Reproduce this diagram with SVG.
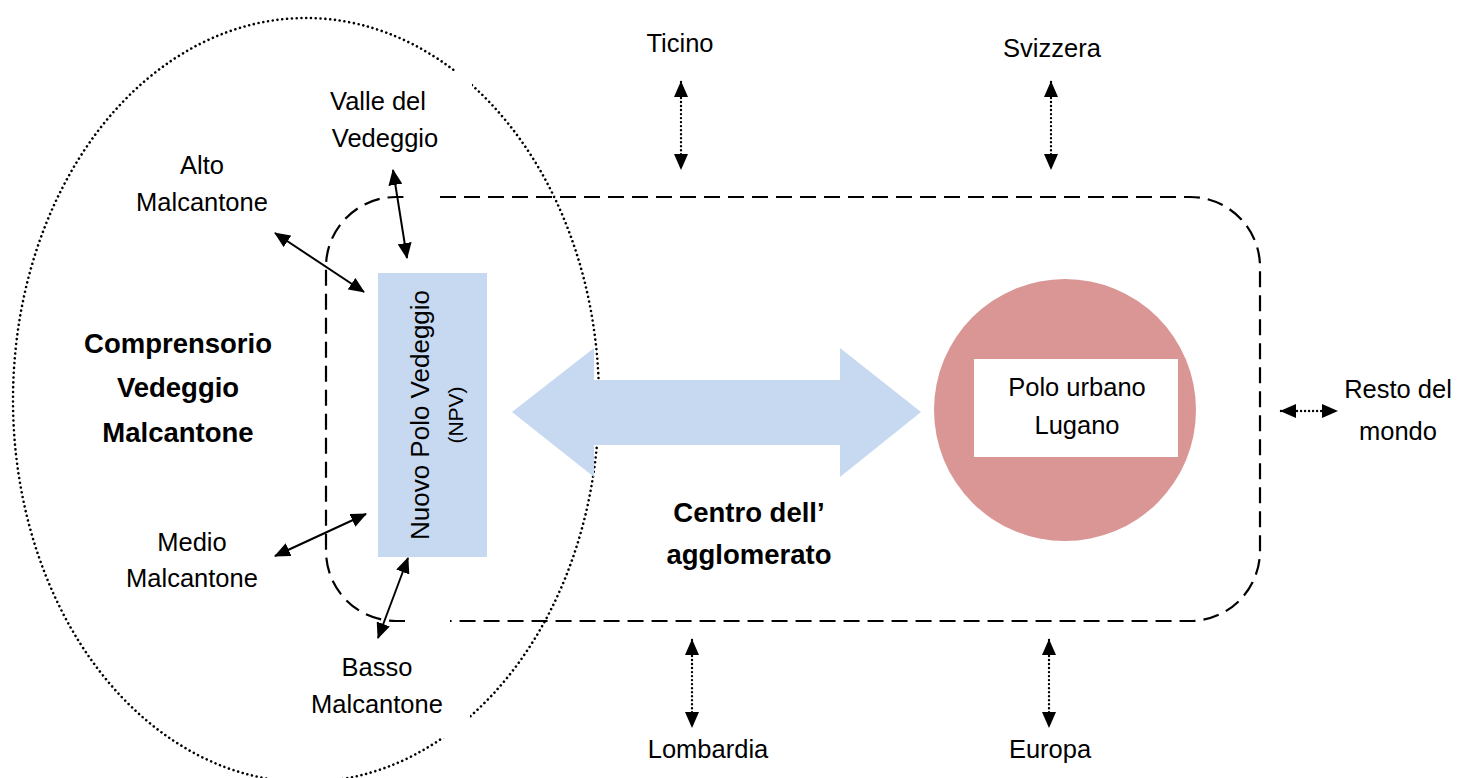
<svg xmlns="http://www.w3.org/2000/svg" width="1463" height="778" viewBox="0 0 1463 778">
  <defs>
    <style>
      .t { font-family: "Liberation Sans", Arial, sans-serif; font-size: 25.5px; fill: #000; text-anchor: middle; }
      .tb { font-family: "Liberation Sans", Arial, sans-serif; font-size: 27.5px; font-weight: bold; fill: #000; text-anchor: middle; }
      .dotted { fill: none; stroke: #000; stroke-width: 2.6; stroke-dasharray: 0.01 4.8; stroke-linecap: round; }
      .dashed { fill: none; stroke: #000; stroke-width: 2.2; stroke-dasharray: 16 8; }
      .solid { fill: none; stroke: #000; stroke-width: 2; marker-start: url(#ah); marker-end: url(#ah); }
      .dotarrow { fill: none; stroke: #000; stroke-width: 2.4; stroke-dasharray: 0.01 4; stroke-linecap: round; marker-start: url(#ah); marker-end: url(#ah); }
    </style>
    <marker id="ah" viewBox="0 0 16 14" refX="15" refY="7" markerWidth="16" markerHeight="14" markerUnits="userSpaceOnUse" orient="auto-start-reverse">
      <path d="M0,0 L16,7 L0,14 z" fill="#000"/>
    </marker>
  </defs>

  <rect width="1463" height="778" fill="#fff"/>

  <g id="comprensorio">
    <ellipse cx="306" cy="400" rx="293" ry="382" class="dotted"/>
  </g>

  <g id="agglomerato">
    <path class="dashed" d="M440,197 L1190,197 A70,70 0 0 1 1260,267 L1260,551 A70,70 0 0 1 1190,621 L450,621"/>
    <path class="dashed" d="M405,621 L396,621 A70,70 0 0 1 326,551 L326,267 A70,70 0 0 1 396,197 L410,197"/>
  </g>

  <g id="valle-vedeggio">
    <rect x="310" y="71" width="162" height="89" fill="#fff"/>
    <text class="t" x="378" y="110">Valle del</text>
    <text class="t" x="385" y="147">Vedeggio</text>
  </g>
  <g id="basso-malcantone">
    <rect x="300" y="648" width="170" height="90" fill="#fff"/>
    <text class="t" x="377" y="676">Basso</text>
    <text class="t" x="377" y="713">Malcantone</text>
  </g>

  <g id="doppia-freccia">
    <polygon points="512,412 594,348 594,380 840,380 840,348 921,412 840,477 840,445 594,445 594,477" fill="#C6D9F1"/>
  </g>

  <g id="npv">
    <rect x="378" y="273" width="109" height="284" fill="#C6D9F1"/>
    <text class="t" transform="translate(420,415) rotate(-90)" y="9" style="font-size:26px">Nuovo Polo Vedeggio</text>
    <text class="t" transform="translate(456,415) rotate(-90)" y="7" style="font-size:21px">(NPV)</text>
  </g>

  <g id="polo-lugano">
    <circle cx="1065" cy="410" r="131" fill="#D99694"/>
    <rect x="974" y="359" width="204" height="98" fill="#fff"/>
    <text class="t" x="1077" y="396">Polo urbano</text>
    <text class="t" x="1077" y="434">Lugano</text>
  </g>

  <g id="ticino"><text class="t" x="680" y="52">Ticino</text></g>
  <g id="svizzera"><text class="t" x="1052" y="57">Svizzera</text></g>
  <g id="lombardia"><text class="t" x="708" y="758">Lombardia</text></g>
  <g id="europa"><text class="t" x="1050" y="758">Europa</text></g>
  <g id="resto-mondo">
    <text class="t" x="1398" y="398">Resto del</text>
    <text class="t" x="1398" y="440">mondo</text>
  </g>
  <g id="alto-malcantone">
    <text class="t" x="202" y="174">Alto</text>
    <text class="t" x="202" y="211">Malcantone</text>
  </g>
  <g id="medio-malcantone">
    <text class="t" x="192" y="551">Medio</text>
    <text class="t" x="192" y="587">Malcantone</text>
  </g>
  <g id="comprensorio-label">
    <text class="tb" x="178" y="353">Comprensorio</text>
    <text class="tb" x="178" y="397">Vedeggio</text>
    <text class="tb" x="178" y="442">Malcantone</text>
  </g>
  <g id="centro-label">
    <text class="tb" x="749" y="522">Centro dell’</text>
    <text class="tb" x="749" y="564">agglomerato</text>
  </g>

  <g id="connectors">
    <line class="solid" x1="393" y1="170" x2="407" y2="258"/>
    <line class="solid" x1="275" y1="233" x2="364" y2="292"/>
    <line class="solid" x1="275" y1="556" x2="366" y2="514"/>
    <line class="solid" x1="408" y1="558" x2="378" y2="638"/>
    <line class="dotarrow" x1="681" y1="82" x2="681" y2="169"/>
    <line class="dotarrow" x1="1051" y1="82" x2="1051" y2="169"/>
    <line class="dotarrow" x1="692" y1="640" x2="692" y2="727"/>
    <line class="dotarrow" x1="1049" y1="640" x2="1049" y2="727"/>
    <line class="dotarrow" x1="1281" y1="411" x2="1337" y2="411"/>
  </g>
</svg>
